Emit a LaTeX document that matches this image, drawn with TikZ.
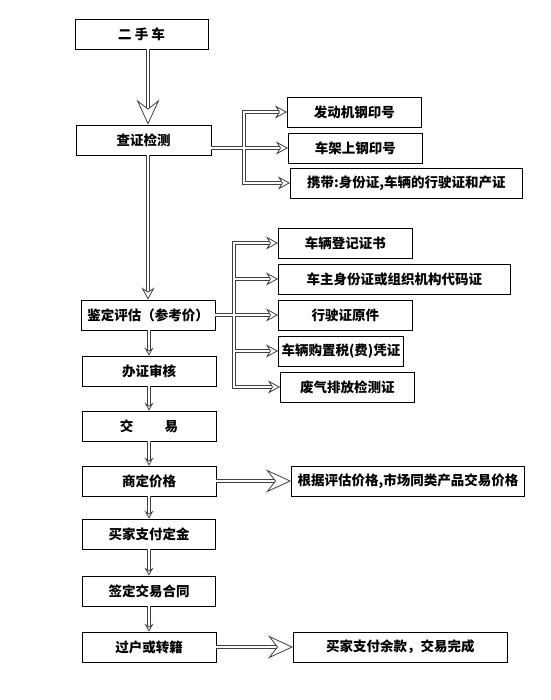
\documentclass[tikz,border=0pt]{standalone}
\usepackage{fontspec}
\newfontfamily\cjk{Noto Sans CJK SC}
\usetikzlibrary{arrows.meta}
\tikzset{box/.style = {draw, line width=0.8pt, minimum height=30pt, inner sep=0pt, font=\cjk\bfseries\fontsize{13.5}{14}\selectfont}}
\tikzset{pipe/.style = {draw=black!75, line width=1pt, double=white, double distance=2pt}}
\tikzset{bighead/.style = {draw=white, line width=0.8pt, -{Stealth[length=25pt, width=23pt, inset=9pt, color=black!75, fill=white]}}}
\tikzset{midhead/.style = {draw=white, line width=0.8pt, -{Stealth[length=12pt, width=13pt, inset=4pt, color=black!75, fill=white]}}}
\tikzset{smallhead/.style = {draw=white, line width=0.8pt, -{Stealth[length=8pt, width=9pt, inset=3pt, color=black!75, fill=white]}}}

\begin{document}
\begin{tikzpicture}[x=1pt, y=1pt]
\useasboundingbox (0,0) rectangle (550,-700);

% main column
\node[box, minimum width=133pt] (car) at (141.5,-34) {二 手 车};
\node[box, minimum width=135pt] (check) at (143.5,-140) {查证检测};
\node[box, minimum width=134pt] (assess) at (148,-315) {鉴定评估（参考价）};
\node[box, minimum width=134pt] (license) at (149,-371) {办证审核};
\node[box, minimum width=134pt] (deal) at (149,-426) {交\hspace{2.3em}易};
\node[box, minimum width=134pt] (price) at (149,-481) {商定价格};
\node[box, minimum width=133pt] (deposit) at (149,-534) {买家支付定金};
\node[box, minimum width=133pt] (contract) at (149,-591) {签定交易合同};
\node[box, minimum width=134pt] (transfer) at (149,-647) {过户或转籍};

% checks
\node[box, anchor=west, minimum width=134pt] (engine) at (287,-112) {发动机钢印号};
\node[box, anchor=west, minimum width=134pt] (frame) at (288,-148) {车架上钢印号};
\node[box, anchor=west, minimum width=232pt] (papers) at (290,-183) {携带:身份证,车辆的行驶证和产证};

% documents
\node[box, anchor=west, minimum width=134pt] (regcert) at (278,-243) {车辆登记证书};
\node[box, anchor=west, minimum width=232pt] (ownerid) at (278,-279) {车主身份证或组织机构代码证};
\node[box, anchor=west, minimum width=134pt] (drivlic) at (278,-315) {行驶证原件};
\node[box, anchor=west, minimum width=125pt] (taxcert) at (278,-351) {车辆购置税(费)凭证};
\node[box, anchor=west, minimum width=134pt] (emission) at (280,-387) {废气排放检测证};

\node[box, anchor=west, minimum width=233pt] (basis) at (291,-481) {根据评估价格,市场同类产品交易价格};
\node[box, anchor=west, minimum width=214pt] (balance) at (293,-647) {买家支付余款，交易完成};

\coordinate (busA) at (244,0);
\coordinate (busB) at (234,0);

% down the column
\draw[pipe] ([xshift=6.5pt]car.south) -- ([xshift=4.5pt, yshift=14pt]check.north);
\draw[bighead] ([xshift=4.5pt, yshift=28pt]check.north) -- ([xshift=4.5pt]check.north);
\draw[pipe] ([xshift=4.5pt]check.south) -- ([yshift=7pt]assess.north);
\draw[midhead] ([yshift=14pt]assess.north) -- (assess.north);
\foreach \a/\b in {assess/license, license/deal, deal/price, price/deposit, deposit/contract, contract/transfer} {
  \draw[pipe] (\a.south -| \b.north) -- ([yshift=4.5pt]\b.north);
  \draw[smallhead] ([yshift=10pt]\b.north) -- (\b.north);
}

% branch to the checks
\draw[pipe] ([xshift=-7pt]engine.west) -| (busA |- papers.west) -- ([xshift=-7pt]papers.west)
  (check.east |- frame.west) -- ([xshift=-7pt]frame.west);
\foreach \n in {engine, frame, papers}
  \draw[midhead] ([xshift=-14pt]\n.west) -- (\n.west);

% branch to the documents
\draw[pipe] ([xshift=-7pt]regcert.west) -| (busB |- emission.west) -- ([xshift=-7pt]emission.west)
  (assess.east |- drivlic.west) -- ([xshift=-7pt]drivlic.west)
  (busB |- ownerid.west) -- ([xshift=-7pt]ownerid.west)
  (busB |- taxcert.west) -- ([xshift=-7pt]taxcert.west);
\foreach \n in {regcert, ownerid, drivlic, taxcert, emission}
  \draw[midhead] ([xshift=-14pt]\n.west) -- (\n.west);

% price and payment
\draw[pipe] (price.east) -- ([xshift=-14pt]basis.west);
\draw[bighead] ([xshift=-30pt]basis.west) -- (basis.west);
\draw[pipe] (transfer.east) -- ([xshift=-14pt]balance.west);
\draw[bighead] ([xshift=-30pt]balance.west) -- (balance.west);

\end{tikzpicture}
\end{document}
